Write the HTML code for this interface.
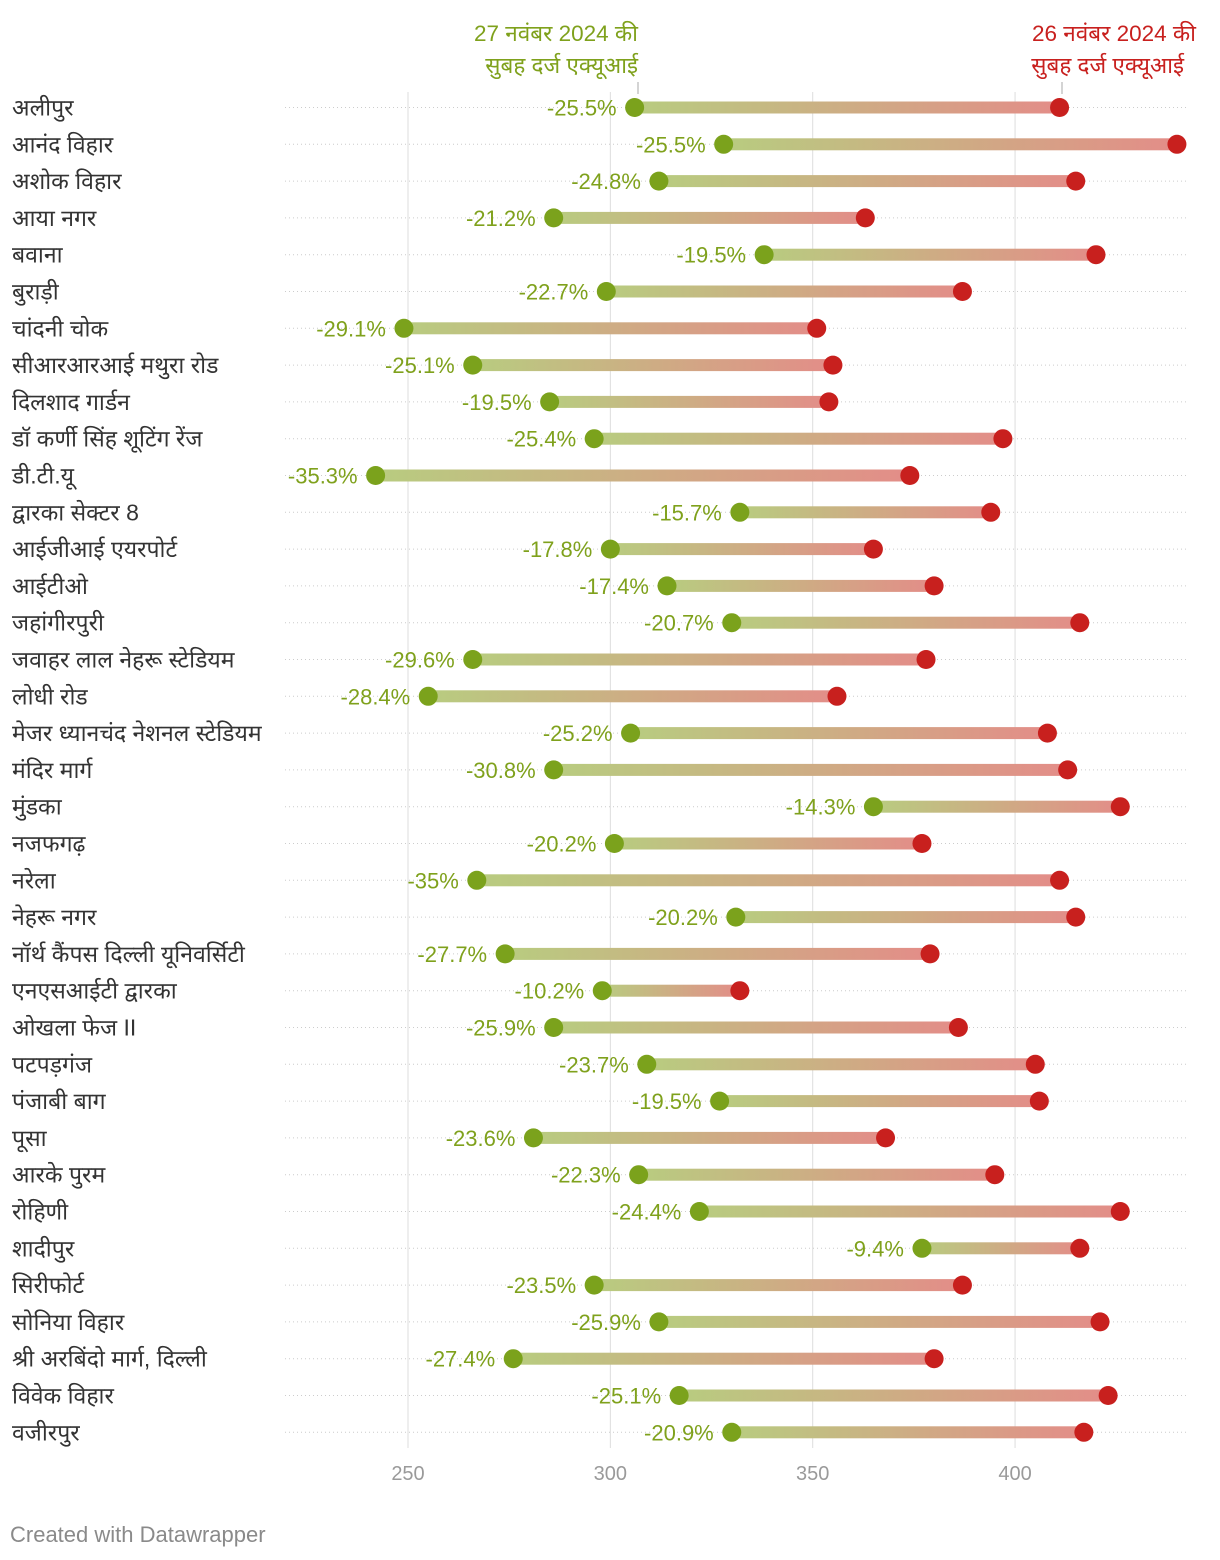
<!DOCTYPE html>
<html><head><meta charset="utf-8">
<style>
html,body{margin:0;padding:0;background:#fff;}
svg{display:block;font-family:"Liberation Sans","Noto Sans CJK SC",sans-serif;}
</style></head>
<body>
<svg id="chart" width="1220" height="1560" viewBox="0 0 1220 1560" xmlns="http://www.w3.org/2000/svg">
<defs>
<linearGradient id="grad" x1="0" x2="1" y1="0" y2="0">
<stop offset="0" stop-color="#b8cc80"/>
<stop offset="1" stop-color="#e38d88"/>
</linearGradient>
</defs>
<g id="grid"></g>
<g id="rows"></g>
<g id="header">
<text x="638" y="41" text-anchor="end" font-size="22.5" fill="#7fa11c">27 नवंबर 2024 की</text>
<text x="638" y="73" text-anchor="end" font-size="22.5" fill="#7fa11c">सुबह दर्ज एक्यूआई</text>
<line x1="638" y1="82" x2="638" y2="94" stroke="#aaa" stroke-width="1"/>
<text x="1196" y="41" text-anchor="end" font-size="22.5" fill="#c8201e">26 नवंबर 2024 की</text>
<text x="1184" y="73" text-anchor="end" font-size="22.5" fill="#c8201e">सुबह दर्ज एक्यूआई</text>
<line x1="1062" y1="82" x2="1062" y2="94" stroke="#aaa" stroke-width="1"/>
</g>
<text x="10" y="1542" font-size="22" fill="#8a8a8a">Created with Datawrapper</text>
</svg>
<script>
const categories=["अलीपुर","आनंद विहार","अशोक विहार","आया नगर","बवाना","बुराड़ी","चांदनी चोक","सीआरआरआई मथुरा रोड","दिलशाद गार्डन","डॉ कर्णी सिंह शूटिंग रेंज","डी.टी.यू","द्वारका सेक्टर 8","आईजीआई एयरपोर्ट","आईटीओ","जहांगीरपुरी","जवाहर लाल नेहरू स्टेडियम","लोधी रोड","मेजर ध्यानचंद नेशनल स्टेडियम","मंदिर मार्ग","मुंडका","नजफगढ़","नरेला","नेहरू नगर","नॉर्थ कैंपस दिल्ली यूनिवर्सिटी","एनएसआईटी द्वारका","ओखला फेज II","पटपड़गंज","पंजाबी बाग","पूसा","आरके पुरम","रोहिणी","शादीपुर","सिरीफोर्ट","सोनिया विहार","श्री अरबिंदो मार्ग, दिल्ली","विवेक विहार","वजीरपुर"];
const aqi26=[411,440,415,363,420,387,351,355,354,397,374,394,365,380,416,378,356,408,413,426,377,411,415,379,332,386,405,406,368,395,426,416,387,421,380,423,417];
const aqi27=[306,328,312,286,338,299,249,266,285,296,242,332,300,314,330,266,255,305,286,365,301,267,331,274,298,286,309,327,281,307,322,377,296,312,276,317,330];
const pctLabels=["-25.5%","-25.5%","-24.8%","-21.2%","-19.5%","-22.7%","-29.1%","-25.1%","-19.5%","-25.4%","-35.3%","-15.7%","-17.8%","-17.4%","-20.7%","-29.6%","-28.4%","-25.2%","-30.8%","-14.3%","-20.2%","-35%","-20.2%","-27.7%","-10.2%","-25.9%","-23.7%","-19.5%","-23.6%","-22.3%","-24.4%","-9.4%","-23.5%","-25.9%","-27.4%","-25.1%","-20.9%"];
const ticks=[250,300,350,400];

const NS="http://www.w3.org/2000/svg";
function x(v){return 408+(v-250)*4.047;}
function y(i){return 107.5+i*36.8;}
function mk(t,a,p){const e=document.createElementNS(NS,t);for(const k in a)e.setAttribute(k,a[k]);p.appendChild(e);return e;}
const grid=document.getElementById('grid'),rows=document.getElementById('rows');
ticks.forEach(t=>{
  const l=mk('line',{x1:x(t),x2:x(t),y1:92,y2:1448,stroke:'#dddddd','stroke-width':1},grid);
  
  
  const tx=mk('text',{x:x(t),y:1480,'text-anchor':'middle','font-size':20,fill:'#9a9a9a'},grid);
  tx.textContent=t;
  
  
});
categories.forEach((c,i)=>{
  const yy=y(i);
  const g=mk('g',{},rows);
  
  
  mk('line',{x1:285,x2:1188,y1:yy,y2:yy,stroke:'#cccccc','stroke-width':1,'stroke-dasharray':'1,3'},g);
  const lb=mk('text',{x:12,y:yy+8,'font-size':23,fill:'#333'},g);
  lb.textContent=c;
  
  
  const x1=x(aqi27[i]),x2=x(aqi26[i]);
  const bar=mk('rect',{x:x1,y:yy-6,width:x2-x1,height:12,fill:'url(#grad)'},g);
  
  
  const gd=mk('circle',{cx:x1,cy:yy,r:9.5,fill:'#7ba21c'},g);
  
  
  const rd=mk('circle',{cx:x2,cy:yy,r:9.5,fill:'#c8201e'},g);
  
  
  const pt=mk('text',{x:x1-18,y:yy+8,'text-anchor':'end','font-size':22,fill:'#7fa11c'},g);
  pt.textContent=pctLabels[i];
  
  
});
</script>
</body></html>
